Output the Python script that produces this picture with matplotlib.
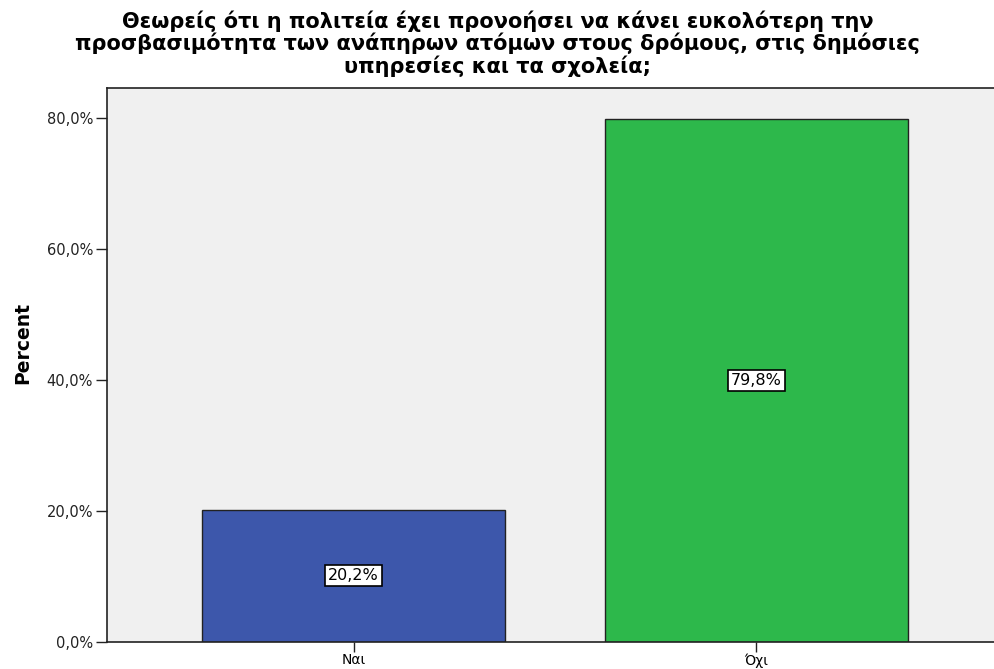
import matplotlib.pyplot as plt
from matplotlib.ticker import FuncFormatter

categories = ['Ναι', 'Όχι']
percent = [20.2, 79.8]
colors = ['#3d57ab', '#2db84b']

plt.rcParams['font.family'] = ['DejaVu Sans']

fig = plt.figure(figsize=(9.95, 6.69), dpi=100)
ax = fig.add_axes([0.1075, 0.0404, 0.9005, 0.828])
ax.set_facecolor('#f0f0f0')

x = range(len(categories))
ax.bar(x, percent, width=0.752, color=colors, edgecolor='#222222', linewidth=1)
for xi, v in zip(x, percent):
    ax.text(xi, v / 2, f'{v:.1f}%'.replace('.', ','), ha='center', va='center', fontsize=11.5,
            bbox=dict(boxstyle='square,pad=0.18', facecolor='white', edgecolor='black', linewidth=1.2))

ax.set_xlim(-0.612, 1.612)
ax.set_ylim(0, 84.6)
ax.set_xticks(list(x))
ax.set_xticklabels(categories, fontsize=10)
ax.set_yticks([0, 20, 40, 60, 80])
ax.yaxis.set_major_formatter(FuncFormatter(lambda v, p: f'{v:.1f}%'.replace('.', ',')))
ax.tick_params(axis='y', labelsize=10.5, length=8, width=1, color='#222222', labelcolor='#222222', pad=2)
ax.tick_params(axis='x', length=7, width=1, color='#222222', pad=1)
for s in ax.spines.values():
    s.set_color('#222222')
    s.set_linewidth(1.2)

ax.set_ylabel('Percent', fontsize=13.5, fontweight='bold')
ax.yaxis.set_label_coords(-0.083, 0.54)
fig.suptitle('Θεωρείς ότι η πολιτεία έχει προνοήσει να κάνει ευκολότερη την\n'
             'προσβασιμότητα των ανάπηρων ατόμων στους δρόμους, στις δημόσιες\n'
             'υπηρεσίες και τα σχολεία;',
             x=0.5, y=0.985, fontsize=15, fontweight='bold', linespacing=1.08, va='top')

fig.savefig('out.png', dpi=100)
